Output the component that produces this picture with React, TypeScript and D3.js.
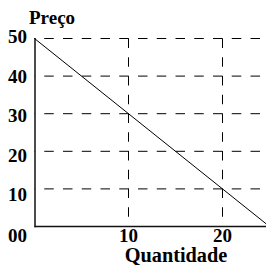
import React from 'react';
import * as d3 from 'd3';

// demand line end points
const quantidade = [0, 25];
const preco = [50, 0];

const precoTicks = [10, 20, 30, 40, 50];
const quantTicks = [10, 20];
const yTitle = 'Preço';
const xTitle = 'Quantidade';
const originLabel = '00';

const W = 266;
const H = 265;
const DASH = 9.5;
const GAP = 9.25;
const PERIOD = DASH + GAP;
const font = '"Liberation Serif", "Times New Roman", serif';

function App() {
  const x = d3.scaleLinear().domain([0, 25]).range([34.5, 269.5]);
  const y = d3.scaleLinear().domain([0, 50]).range([226.5, 38.5]);
  // the tick labels are spaced a little wider than the grid
  const yLab = d3.scaleLinear().domain([10, 50]).range([201, 43]);

  const line = d3.line<number>()
    .x((d, i) => x(quantidade[i]))
    .y(d => y(d));

  const hStart = x(0);
  const r = (x(20) - DASH - hStart) % PERIOD;
  const hOffset = (PERIOD - r) % PERIOD;

  return (
    <svg width={W} height={H} style={{ position: 'absolute', left: 0, top: 0, background: '#fff' }}>
      {/* horizontal dashed grid */}
      {precoTicks.map(t => (
        <line key={'h' + t} x1={hStart} x2={W} y1={y(t)} y2={y(t)}
          stroke="#000" strokeWidth={1} strokeDasharray={`${DASH},${GAP}`} strokeDashoffset={hOffset} />
      ))}
      {/* vertical dashed grid */}
      {quantTicks.map(t => (
        <line key={'v' + t} x1={x(t)} x2={x(t)} y1={y(50)} y2={y(0)}
          stroke="#000" strokeWidth={1} strokeDasharray={`${DASH},${GAP}`} />
      ))}

      {/* axes */}
      <line x1={x(0) + 0.5} x2={x(0) + 0.5} y1={y(50) - 0.5} y2={y(0) + 0.75} stroke="#111" strokeWidth={1.5} />
      <line x1={x(0)} x2={W} y1={y(0)} y2={y(0)} stroke="#111" strokeWidth={1.5} />

      {/* demand line */}
      <path d={line(preco) || ''} fill="none" stroke="#000" strokeWidth={1} />

      <g fontFamily={font} fontWeight="bold" fontSize={19} fill="#000">
        {precoTicks.map(t => (
          <text key={'yl' + t} x={27} y={yLab(t)} textAnchor="end">{t}</text>
        ))}
        <text x={27} y={242} textAnchor="end">{originLabel}</text>
        {quantTicks.map(t => (
          <text key={'xl' + t} x={x(t)} y={242} textAnchor="middle">{t}</text>
        ))}
        <text x={29} y={24}>{yTitle}</text>
        <text x={176} y={262} textAnchor="middle" fontSize={20.3}>{xTitle}</text>
      </g>
    </svg>
  );
}

export default App;
